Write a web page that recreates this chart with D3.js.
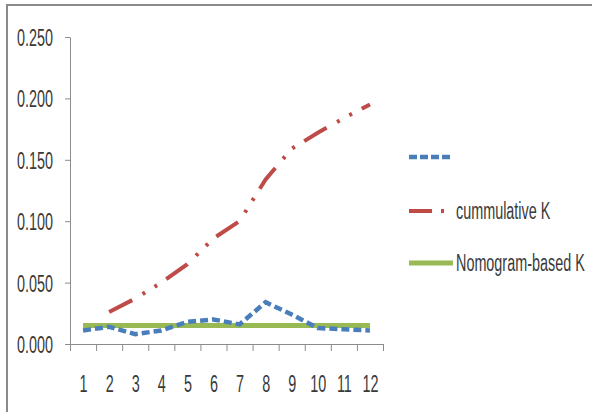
<!DOCTYPE html>
<html>
<head>
<meta charset="utf-8">
<script src="https://cdn.jsdelivr.net/npm/d3@7"></script>
<style>
  body { margin: 0; background: #fff; }
  svg { display: block; }
  text { font-family: "Liberation Sans", Arial, sans-serif; fill: #3a3a3a; }
</style>
</head>
<body>
<svg width="592" height="412"></svg>
<script>
const categories = [1, 2, 3, 4, 5, 6, 7, 8, 9, 10, 11, 12];
const blueSeries = [0.011, 0.014, 0.008, 0.011, 0.018, 0.020, 0.016, 0.034, 0.024, 0.013, 0.012, 0.011];
const cumulativeK = [null, 0.026, 0.037, 0.050, 0.065, 0.086, 0.100, 0.134, 0.159, 0.172, 0.184, 0.195];
const nomogramK = [0.015, 0.015, 0.015, 0.015, 0.015, 0.015, 0.015, 0.015, 0.015, 0.015, 0.015, 0.015];
const yTicks = [0, 0.05, 0.1, 0.15, 0.2, 0.25];
const seriesNames = ["", "cummulative K", "Nomogram-based K"];

const svg = d3.select("svg");
// the source text is narrow and tall, so squeeze a regular face
const textScale = "scale(0.8,1.32)";

// outer chart frame (only top and left edges visible)
svg.append("rect")
  .attr("x", 7).attr("y", 5)
  .attr("width", 620).attr("height", 440)
  .attr("fill", "none")
  .attr("stroke", "#8a8a8a")
  .attr("stroke-width", 2);

const plot = { left: 70, right: 383, top: 37, bottom: 344 };

const x = d3.scaleLinear().domain([0.5, 12.5]).range([plot.left, plot.right]);
const y = d3.scaleLinear().domain([0, 0.25]).range([plot.bottom, plot.top]);

// y axis
const yAxisG = svg.append("g")
  .attr("transform", `translate(${plot.left},0)`)
  .call(d3.axisLeft(y).tickValues(yTicks).tickFormat(d3.format(".3f"))
    .tickSize(5).tickSizeOuter(0));
yAxisG.selectAll("text")
  .attr("font-size", 18)
  .attr("x", 0)
  .attr("dy", "0.36em")
  .attr("transform", `translate(-17,0) ${textScale}`);

// x axis: tick marks at category boundaries
const bounds = d3.range(0, categories.length + 1).map((i) => i + 0.5);
svg.append("g")
  .attr("transform", `translate(0,${plot.bottom})`)
  .call(d3.axisBottom(x).tickValues(bounds).tickFormat("").tickSize(7).tickSizeOuter(0));

// x axis labels at category centres
const xLab = svg.append("g")
  .attr("transform", `translate(0,${plot.bottom})`)
  .call(d3.axisBottom(x).tickValues(categories).tickFormat(d3.format("d")).tickSize(0));
xLab.select(".domain").remove();
xLab.selectAll("text")
  .attr("font-size", 18)
  .attr("y", 0)
  .attr("dy", 0)
  .attr("transform", `translate(0,48) ${textScale}`);

svg.selectAll(".domain, .tick line").attr("stroke", "#8c8c8c");

const line = d3.line()
  .defined((d) => d.v != null)
  .x((d) => x(d.c))
  .y((d) => y(d.v));
const pts = (arr) => categories.map((c, i) => ({ c, v: arr[i] }));

const styles = [
  { color: "#4a7ebb", width: 4.5, dash: "8,4", data: blueSeries },
  { color: "#be4b48", width: 4, dash: "26,12,3,11,3,11", data: cumulativeK },
  { color: "#98b954", width: 5, dash: null, data: nomogramK },
];

// draw order: red, green, blue on top
[1, 2, 0].forEach((k) => {
  const s = styles[k];
  svg.append("path")
    .datum(pts(s.data))
    .attr("d", line)
    .attr("fill", "none")
    .attr("stroke", s.color)
    .attr("stroke-width", s.width)
    .attr("stroke-dasharray", s.dash);
});

// legend
const legendY = [157, 211, 263];
const legendDash = ["8,3", "23,9,3,60", null];
const legend = svg.append("g");
styles.forEach((s, i) => {
  legend.append("line")
    .attr("x1", 409).attr("x2", 453)
    .attr("y1", legendY[i]).attr("y2", legendY[i])
    .attr("stroke", s.color)
    .attr("stroke-width", s.width)
    .attr("stroke-dasharray", legendDash[i]);
  if (seriesNames[i]) {
    legend.append("text")
      .attr("transform", `translate(456,${legendY[i] + 8}) ${textScale}`)
      .attr("font-size", 18)
      .text(seriesNames[i]);
  }
});
</script>
</body>
</html>
